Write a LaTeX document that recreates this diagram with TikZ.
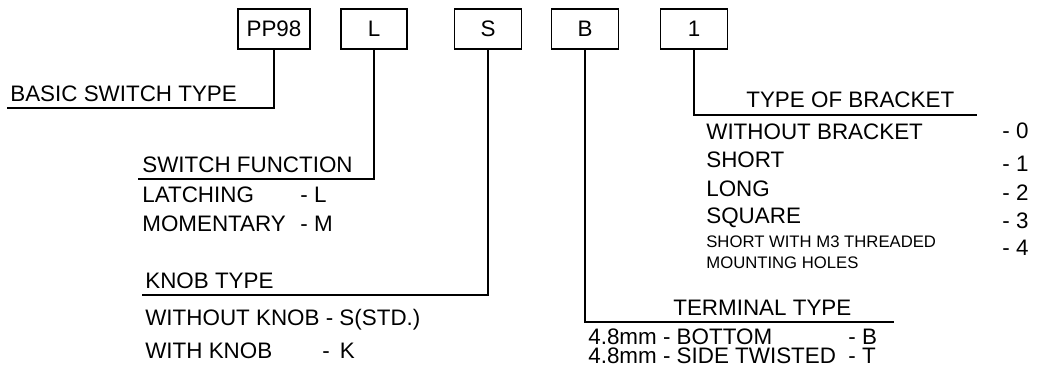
\documentclass[tikz,border=0pt]{standalone}
\usepackage{fontspec}
\setmainfont{Liberation Sans}
\usetikzlibrary{positioning, calc}

\begin{document}
\begin{tikzpicture}[
    x=0.02cm, y=-0.02cm,
    codebox/.style={draw, line width=0.9pt, minimum height=0.8cm, inner sep=0pt,
                    font=\fontsize{12.75}{15}\selectfont},
    lead/.style={line width=0.9pt},
    txt/.style={anchor=base west, inner sep=0pt, font=\fontsize{12.75}{15}\selectfont},
    tighttxt/.style={txt, align=left, font=\fontsize{12.75}{10.8}\selectfont},
    smalltxt/.style={txt, align=left, font=\fontsize{9.5}{11.4}\selectfont},
]
\useasboundingbox (0,0) rectangle (1041,372);
% === Part number code boxes (top row) ===
\node[codebox, minimum width=1.44cm] (pp98) at (274,29) {PP98};
\node[codebox, minimum width=1.32cm] (fnbox) at (374,29) {L};
\node[codebox, minimum width=1.34cm] (knobbox) at (488,29) {S};
\node[codebox, minimum width=1.34cm] (termbox) at (585,29) {B};
\node[codebox, minimum width=1.34cm] (brkbox) at (694,29) {1};
% === Basic switch type ===
\node[txt] (basic) at (10,101) {BASIC SWITCH TYPE};
\coordinate (basicend) at (7,108);
\draw[lead] (pp98.south) |- (basicend);
% === Switch function ===
\node[txt] (fnhead) at (142,172) {SWITCH FUNCTION};
\coordinate (fnend) at (138,179);
\draw[lead] (fnbox.south) |- (fnend);
\node[txt] (latch) at (142,202) {LATCHING};
\node[txt] (latchcode) at (300,202) {- L};
\node[txt] (moment) at (142,231) {MOMENTARY};
\node[txt] (momentcode) at (300,231) {- M};
% === Knob type ===
\node[txt] (knobhead) at (145,288) {KNOB TYPE};
\coordinate (knobend) at (142,295);
\draw[lead] (knobbox.south) |- (knobend);
\node[txt] (noknob) at (145,325) {WITHOUT KNOB - S(STD.)};
\node[txt] (withknob) at (145,358) {WITH KNOB};
\node[txt] (withknobcode) at (322,358) {- \,K};
% === Terminal type (two tight lines, placed by the last baseline) ===
\node[txt] (termhead) at (673,315) {TERMINAL TYPE};
\coordinate (termend) at (894,322);
\draw[lead] (termbox.south) |- (termend);
\node[tighttxt] (termopts) at (588,363) {4.8mm - BOTTOM\\4.8mm - SIDE TWISTED};
\node[tighttxt] (termcodes) at (848,363) {- B\\- T};
% === Type of bracket ===
\node[txt] (brkhead) at (746,107) {TYPE OF BRACKET};
\coordinate (brkend) at (977,115);
\draw[lead] (brkbox.south) |- (brkend);
\node[txt] (brk0) at (706,139) {WITHOUT BRACKET};
\node[txt] (brk1) at (706,167) {SHORT};
\node[txt] (brk2) at (706,196) {LONG};
\node[txt] (brk3) at (706,223) {SQUARE};
\node[smalltxt] (brk4) at (706,268) {SHORT WITH M3 THREADED\\MOUNTING HOLES};
\node[txt] (code0) at (1002,138) {- 0};
\node[txt] (code1) at (1002,171) {- 1};
\node[txt] (code2) at (1002,200) {- 2};
\node[txt] (code3) at (1002,228) {- 3};
\node[txt] (code4) at (1002,255) {- 4};
\end{tikzpicture}
\end{document}
